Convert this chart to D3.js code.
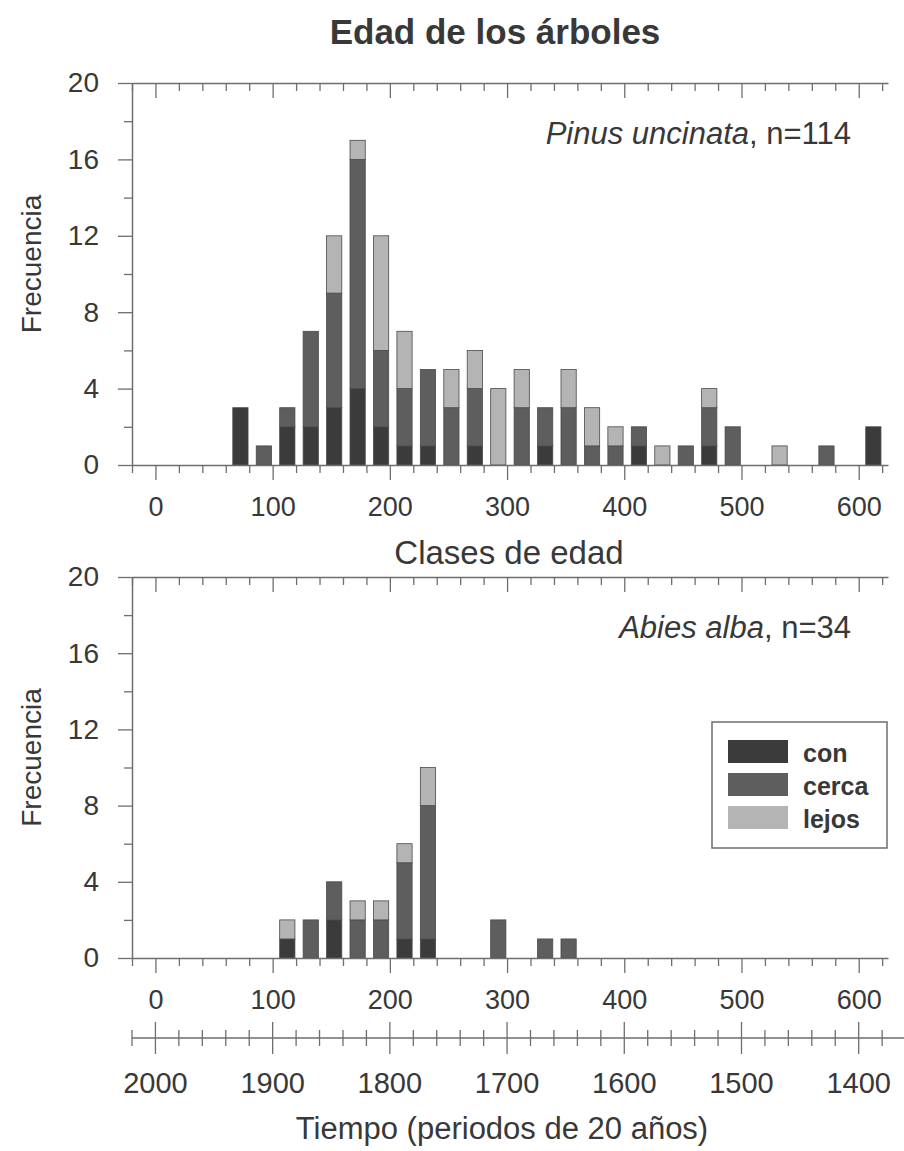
<!DOCTYPE html>
<html>
<head>
<meta charset="utf-8">
<script src="https://cdn.jsdelivr.net/npm/d3@7"></script>
<style>
  body { margin: 0; background: #fff; }
  svg text { font-family: "Liberation Sans", Arial, sans-serif; fill: #383838; }
</style>
</head>
<body>
<div id="chart"></div>
<script>
// age classes (upper bound of each 20-year class) and stacked counts
const pinusClasses = [80, 100, 120, 140, 160, 180, 200, 220, 240, 260, 280, 300, 320, 340, 360, 380, 400, 420, 440, 460, 480, 500, 540, 580, 620];
const pinusCon     = [ 3,   0,   2,   2,   3,   4,   2,   1,   1,   0,   1,   0,   0,   1,   0,   0,   0,   1,   0,   0,   1,   0,   0,   0,   2];
const pinusCerca   = [ 0,   1,   1,   5,   6,  12,   4,   3,   4,   3,   3,   0,   3,   2,   3,   1,   1,   1,   0,   1,   2,   2,   0,   1,   0];
const pinusLejos   = [ 0,   0,   0,   0,   3,   1,   6,   3,   0,   2,   2,   4,   2,   0,   2,   2,   1,   0,   1,   0,   1,   0,   1,   0,   0];

const abiesClasses = [120, 140, 160, 180, 200, 220, 240, 300, 340, 360];
const abiesCon     = [  1,   0,   2,   0,   0,   1,   1,   0,   0,   0];
const abiesCerca   = [  0,   2,   2,   2,   2,   4,   7,   2,   1,   1];
const abiesLejos   = [  1,   0,   0,   1,   1,   1,   2,   0,   0,   0];

const seriesNames = ["con", "cerca", "lejos"];
const seriesColors = ["#3b3b3b", "#5e5e5e", "#b4b4b4"];

const yTicks = [0, 4, 8, 12, 16, 20];
const ageTicks = [0, 100, 200, 300, 400, 500, 600];
const yearTicks = [2000, 1900, 1800, 1700, 1600, 1500, 1400];

const W = 904, H = 1151;
const plotLeft = 132, plotRight = 888;
const lineCol = "#6e6e6e";

const svg = d3.select("#chart").append("svg")
  .attr("width", W)
  .attr("height", H);

const x = d3.scaleLinear().domain([-20, 625]).range([plotLeft, plotRight]);

function stackRows(classes, con, cerca, lejos) {
  return classes.map((c, i) => ({ cls: c, con: con[i], cerca: cerca[i], lejos: lejos[i] }));
}

function styleAxis(g, fs = 26) {
  g.select(".domain").attr("stroke", lineCol).attr("stroke-width", 1.5);
  g.selectAll(".tick line").attr("stroke", lineCol).attr("stroke-width", 1.3);
  g.selectAll(".tick text").attr("font-size", fs + "px").attr("fill", "#383838");
}

function drawPanel(rows, top, bottom, label, labelSize) {
  const y = d3.scaleLinear().domain([0, 20]).range([bottom, top]);

  // top border with inward ticks
  svg.append("g")
    .attr("transform", `translate(0,${top})`)
    .call(d3.axisBottom(x).tickValues(ageTicks).tickSize(15).tickSizeOuter(0).tickFormat(""))
    .call(styleAxis);
  svg.append("g")
    .attr("transform", `translate(0,${top})`)
    .call(d3.axisBottom(x).tickValues(d3.range(-20, 621, 20).filter(v => v % 100 != 0)).tickSize(8).tickFormat(""))
    .call(g => g.select(".domain").remove())
    .call(styleAxis);

  // bars
  const stacked = d3.stack().keys(seriesNames)(rows);
  svg.append("g").selectAll("g")
    .data(stacked)
    .enter()
    .append("g")
    .attr("fill", (d, i) => seriesColors[i])
    .selectAll("rect")
    .data(d => d.filter(s => s[1] > s[0]))
    .enter()
    .append("rect")
    .attr("x", d => x(d.data.cls - 14))
    .attr("width", x(13) - x(0))
    .attr("y", d => y(d[1]))
    .attr("height", d => y(d[0]) - y(d[1]))
    .attr("stroke", "#4a4a4a")
    .attr("stroke-width", 0.8);

  // x axis at zero
  svg.append("g")
    .attr("transform", `translate(0,${bottom})`)
    .call(d3.axisBottom(x).tickValues(ageTicks).tickSize(15).tickSizeOuter(0).tickPadding(17))
    .call(g => styleAxis(g, 27));
  svg.append("g")
    .attr("transform", `translate(0,${bottom})`)
    .call(d3.axisBottom(x).tickValues(d3.range(-20, 621, 20).filter(v => v % 100 != 0)).tickSize(8).tickFormat(""))
    .call(g => g.select(".domain").remove())
    .call(styleAxis);

  // y axis
  svg.append("g")
    .attr("transform", `translate(${plotLeft},0)`)
    .call(d3.axisLeft(y).tickValues(yTicks).tickSize(14).tickSizeOuter(0).tickPadding(19))
    .call(g => styleAxis(g, 28));
  svg.append("g")
    .attr("transform", `translate(${plotLeft},0)`)
    .call(d3.axisLeft(y).tickValues([2, 6, 10, 14, 18]).tickSize(8).tickFormat(""))
    .call(g => g.select(".domain").remove())
    .call(styleAxis);

  svg.append("text")
    .attr("transform", `translate(41,${(top + bottom) / 2 - 10}) rotate(-90)`)
    .attr("text-anchor", "middle")
    .attr("font-size", "28px")
    .text("Frecuencia");

  // species label
  const t = svg.append("text")
    .attr("x", 851)
    .attr("y", top + 61)
    .attr("text-anchor", "end")
    .attr("font-size", labelSize + "px");
  t.append("tspan").attr("font-style", "italic").text(label[0]);
  t.append("tspan").text(label[1]);
}

svg.append("text")
  .attr("x", 495)
  .attr("y", 44)
  .attr("text-anchor", "middle")
  .attr("font-size", "35px")
  .attr("font-weight", "bold")
  .text("Edad de los árboles");

drawPanel(stackRows(pinusClasses, pinusCon, pinusCerca, pinusLejos), 83, 465, ["Pinus uncinata", ", n=114"], 31);

svg.append("text")
  .attr("x", 509)
  .attr("y", 564)
  .attr("text-anchor", "middle")
  .attr("font-size", "33px")
  .text("Clases de edad");

drawPanel(stackRows(abiesClasses, abiesCon, abiesCerca, abiesLejos), 577, 958, ["Abies alba", ", n=34"], 31);

// legend
const legend = svg.append("g").attr("transform", "translate(712,722)");
legend.append("rect")
  .attr("width", 175).attr("height", 126)
  .attr("fill", "#fff").attr("stroke", lineCol).attr("stroke-width", 1.5);
seriesNames.forEach((name, i) => {
  legend.append("rect")
    .attr("x", 16).attr("y", 18 + i * 33)
    .attr("width", 60).attr("height", 23)
    .attr("fill", seriesColors[i]);
  legend.append("text")
    .attr("x", 91).attr("y", 40 + i * 33)
    .attr("font-size", "25px")
    .attr("font-weight", "bold")
    .text(name);
});

// time axis (periods of 20 years)
const xYear = d3.scaleLinear().domain([2000, 1400]).range([x(0), x(600)]);
const yearAxisY = 1038;
svg.append("line")
  .attr("x1", plotLeft).attr("x2", W)
  .attr("y1", yearAxisY).attr("y2", yearAxisY)
  .attr("stroke", lineCol).attr("stroke-width", 1.5);
svg.append("g")
  .selectAll("line")
  .data(d3.range(2020, 1379, -20))
  .enter()
  .append("line")
  .attr("x1", d => xYear(d)).attr("x2", d => xYear(d))
  .attr("y1", d => yearAxisY - (d % 100 == 0 ? 16 : 8))
  .attr("y2", d => yearAxisY + (d % 100 == 0 ? 16 : 8))
  .attr("stroke", lineCol).attr("stroke-width", 1.3);
svg.append("g")
  .selectAll("text")
  .data(yearTicks)
  .enter()
  .append("text")
  .attr("x", d => xYear(d))
  .attr("y", 1093)
  .attr("text-anchor", "middle")
  .attr("font-size", "29px")
  .text(d => d);

svg.append("text")
  .attr("x", 502)
  .attr("y", 1139)
  .attr("text-anchor", "middle")
  .attr("font-size", "31px")
  .text("Tiempo (periodos de 20 años)");
</script>
</body>
</html>
